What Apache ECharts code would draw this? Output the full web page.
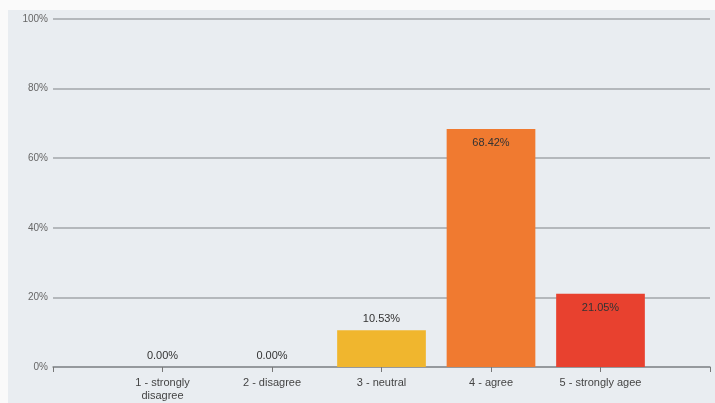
<!DOCTYPE html>
<html><head><meta charset="utf-8">
<script src="https://cdn.jsdelivr.net/npm/echarts@6/dist/echarts.min.js"></script>
<style>
html,body{margin:0;padding:0;background:#fafafa;width:715px;height:403px;overflow:hidden}
#c{position:absolute;left:8px;top:10px;width:707px;height:393px;background:#e9edf1}
</style></head><body><div id="c"></div>
<script>
const categories = ['', '1 - strongly\ndisagree', '2 - disagree', '3 - neutral', '4 - agree', '5 - strongly agee', ''];
const values = [null, 0, 0, 10.53, 68.42, 21.05, null];
const colors = ['#f0b62e', '#f0b62e', '#f0b62e', '#f0b62e', '#f07a30', '#e8412f', '#f0b62e'];
const labelPos = ['top', 'top', 'top', 'top', 'insideTop', 'insideTop', 'top'];
const yTicks = [0, 20, 40, 60, 80, 100];

const chart = echarts.init(document.getElementById('c'));
chart.setOption({
  animation: false,
  grid: {left: 45, right: 5, top: 9, bottom: 36},
  xAxis: {
    type: 'category', data: categories, boundaryGap: false,
    axisLine: {lineStyle: {color: '#8a8e92', width: 1.5}},
    axisTick: {show: true, length: 5, lineStyle: {color: '#777'}},
    axisLabel: {color: '#444', fontSize: 11, fontFamily: 'Arial, Liberation Sans', lineHeight: 13, interval: 0, margin: 9}
  },
  yAxis: {
    type: 'value', min: yTicks[0], max: yTicks[yTicks.length - 1], interval: 20,
    axisLine: {show: false}, axisTick: {show: false},
    axisLabel: {color: '#666', fontSize: 10, fontFamily: 'Arial, Liberation Sans', formatter: v => v + '%', margin: 5},
    splitLine: {lineStyle: {color: '#a2a6aa', width: 1.5}}
  },
  series: [{
    type: 'bar', barWidth: '81%',
    data: values.map((v, i) => ({
      value: v,
      itemStyle: {color: colors[i]},
      label: {show: v !== null, position: labelPos[i], distance: labelPos[i] === 'top' ? 6 : 9}
    })),
    label: {color: '#333', fontSize: 11, fontFamily: 'Arial, Liberation Sans', formatter: p => p.value.toFixed(2) + '%'}
  }]
});
</script></body></html>
